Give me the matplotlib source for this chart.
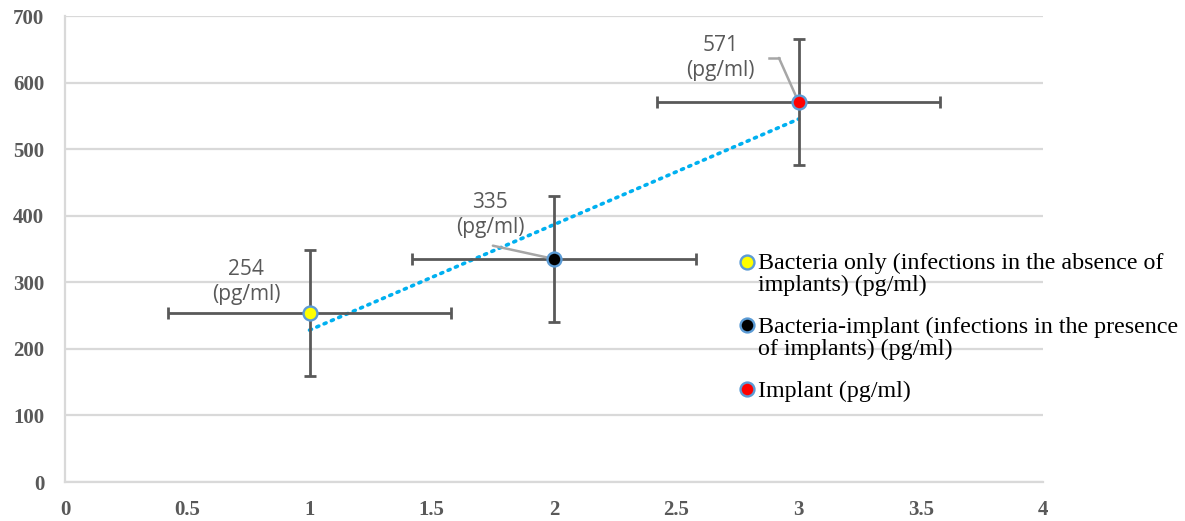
import numpy as np
import matplotlib
matplotlib.use("Agg")
import matplotlib.pyplot as plt
from matplotlib.legend_handler import HandlerLine2D

# ---- data ----
x_vals = [1, 2, 3]
y_vals = [254, 335, 571]
x_err = [0.58, 0.58, 0.58]
y_err = [95, 95, 95]
face_colors = ["#ffff00", "#000000", "#ff0000"]
series_labels = [
    "Bacteria only (infections in the absence of\nimplants) (pg/ml)",
    "Bacteria-implant (infections in the presence\nof implants) (pg/ml)",
    "Implant (pg/ml)",
]
point_labels = ["254\n(pg/ml)", "335\n(pg/ml)", "571\n(pg/ml)"]
label_pos = [(0.74, 300), (1.74, 401), (2.68, 637)]
leader = [False, True, True]
x_ticks = [0, 0.5, 1, 1.5, 2, 2.5, 3, 3.5, 4]
x_tick_labels = ["0", "0.5", "1", "1.5", "2", "2.5", "3", "3.5", "4"]
y_ticks = [0, 100, 200, 300, 400, 500, 600, 700]

fig = plt.figure(figsize=(11.85, 5.21), dpi=100)
ax = fig.add_axes([65 / 1185, 1 - 482 / 521, (1043 - 65) / 1185, (482 - 16) / 521])

grid_c = "#d9d9d9"
ax.set_xlim(0, 4)
ax.set_ylim(0, 700)
ax.set_yticks(y_ticks)
ax.set_xticks(x_ticks)
ax.set_xticklabels(x_tick_labels)
ax.grid(axis="y", color=grid_c, lw=1.6, zorder=0)
ax.set_axisbelow(True)
for s in ["top", "right"]:
    ax.spines[s].set_visible(False)
ax.spines["left"].set_color(grid_c)
ax.spines["left"].set_linewidth(1.6)
ax.spines["bottom"].set_color(grid_c)
ax.spines["bottom"].set_linewidth(1.6)
ax.tick_params(length=0, colors="#595959")
for lab in ax.get_xticklabels() + ax.get_yticklabels():
    lab.set_fontfamily("Liberation Serif")
    lab.set_fontweight("bold")
    lab.set_fontsize(15)
    lab.set_color("#595959")
ax.tick_params(axis="y", pad=15)
ax.tick_params(axis="x", pad=13)

# trendline (linear fit)
coef = np.polyfit(x_vals, y_vals, 1)
xt = np.array([x_vals[0], x_vals[-1]])
ax.plot(xt, np.polyval(coef, xt), color="#00b0f0", lw=2.6, ls=(0, (0.6, 1.6)),
        dash_capstyle="round", zorder=2)

handles = []
for i in range(len(x_vals)):
    ax.errorbar([x_vals[i]], [y_vals[i]], xerr=[x_err[i]], yerr=[y_err[i]],
                fmt="none", ecolor="#595959", elinewidth=2, capsize=4.5,
                capthick=2, zorder=3)
    h, = ax.plot([x_vals[i]], [y_vals[i]], "o", ms=10, mfc=face_colors[i],
                 mec="#5b9bd5", mew=1.7, zorder=5, label=series_labels[i])
    handles.append(h)

for i in range(len(x_vals)):
    lx, ly = label_pos[i]
    if leader[i]:
        if i == 1:
            ax.annotate("", xy=(x_vals[i], y_vals[i]), xytext=(1.75, 355),
                        arrowprops=dict(arrowstyle="-", color="#a6a6a6", lw=1.8,
                                        shrinkA=0, shrinkB=0), zorder=4)
        else:
            ax.plot([2.88, 2.92], [637, 637], color="#a6a6a6", lw=1.8, zorder=4)
            ax.annotate("", xy=(x_vals[i], y_vals[i]), xytext=(2.92, 637),
                        arrowprops=dict(arrowstyle="-", color="#a6a6a6", lw=1.8,
                                        shrinkA=0, shrinkB=0), zorder=4)
    ax.text(lx, ly, point_labels[i], ha="center", va="center",
            fontsize=15, family="Open Sans", color="#595959",
            linespacing=1.25, zorder=6)


class OffsetHandler(HandlerLine2D):
    def __init__(self, offset=0, **kw):
        super().__init__(**kw)
        self.offset = offset

    def create_artists(self, legend, orig_handle, xdescent, ydescent, width,
                       height, fontsize, trans):
        arts = super().create_artists(legend, orig_handle, xdescent, ydescent,
                                      width, height, fontsize, trans)
        for a in arts:
            yd = np.asarray(a.get_ydata(), dtype=float)
            a.set_ydata(yd + self.offset)
        return arts


hmap = {handles[0]: OffsetHandler(offset=9, numpoints=1),
        handles[1]: OffsetHandler(offset=9, numpoints=1),
        handles[2]: OffsetHandler(offset=0, numpoints=1)}
leg = fig.legend(handles=handles, labels=series_labels, loc="upper left",
                 bbox_to_anchor=(741 / 1185, 1 - 253 / 521), frameon=False,
                 prop={"family": "Liberation Serif", "size": 17.3},
                 handler_map=hmap, handlelength=0.5, handletextpad=0.2,
                 labelspacing=0.85, borderpad=0, borderaxespad=0)
for t in leg.get_texts():
    t.set_color("#000000")
    t.set_linespacing(1.05)

fig.savefig("out.png", dpi=100)
